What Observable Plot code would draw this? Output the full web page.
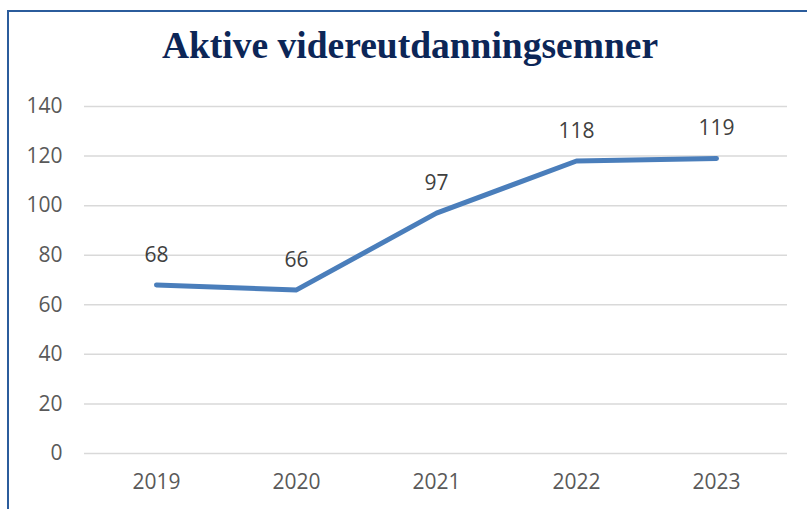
<!DOCTYPE html>
<html>
<head>
<meta charset="utf-8">
<script src="https://cdn.jsdelivr.net/npm/d3@7"></script>
<script src="https://cdn.jsdelivr.net/npm/@observablehq/plot@0.6"></script>
<style>
  html, body { margin: 0; padding: 0; background: #fff; }
  body { width: 807px; height: 509px; position: relative; overflow: hidden; }
  #frame { position: absolute; left: 7px; top: 10px; width: 820px; height: 520px;
           border-left: 2px solid #2b5c9c; border-top: 2px solid #2b5c9c; box-sizing: border-box; }
  #title { position: absolute; left: 0; width: 820px; top: 27px; text-align: center;
           font-family: "Liberation Serif", "DejaVu Serif", serif; font-weight: bold;
           font-size: 37.5px; color: #0c2657; line-height: 1; }
  #chart { position: absolute; left: 0; top: 80px; }
</style>
</head>
<body>
<div id="frame"></div>
<div id="title">Aktive videreutdanningsemner</div>
<div id="chart"></div>
<script>
const years = ["2019", "2020", "2021", "2022", "2023"];
const values = [68, 66, 97, 118, 119];
const yTicks = [0, 20, 40, 60, 80, 100, 120, 140];

const data = years.map((y, i) => ({year: y, value: values[i]}));

const chart = Plot.plot({
  width: 807,
  height: 429,
  marginLeft: 84,
  marginRight: 20,
  marginTop: 26,
  marginBottom: 56,
  style: {fontFamily: "'Open Sans', sans-serif", fontSize: "21px", background: "transparent"},
  x: {type: "point", domain: years, padding: 0.5, label: null},
  y: {domain: [0, 140], label: null},
  marks: [
    Plot.gridY(yTicks, {stroke: "#d9d9d9", strokeOpacity: 1, strokeWidth: 1.5}),
    Plot.axisY(yTicks, {tickSize: 0, tickPadding: 22, fill: "#595959", fontSize: 21, label: null}),
    Plot.axisX(years, {tickSize: 0, tickPadding: 21, fill: "#595959", fontSize: 21, label: null}),
    Plot.line(data, {x: "year", y: "value", stroke: "#4a7ebb", strokeWidth: 5, strokeLinecap: "round", strokeLinejoin: "round"}),
    Plot.text(data, {x: "year", y: "value", text: d => String(d.value), dy: -30, fill: "#404040", fontSize: 21})
  ]
});
document.getElementById("chart").appendChild(chart);
</script>
</body>
</html>
